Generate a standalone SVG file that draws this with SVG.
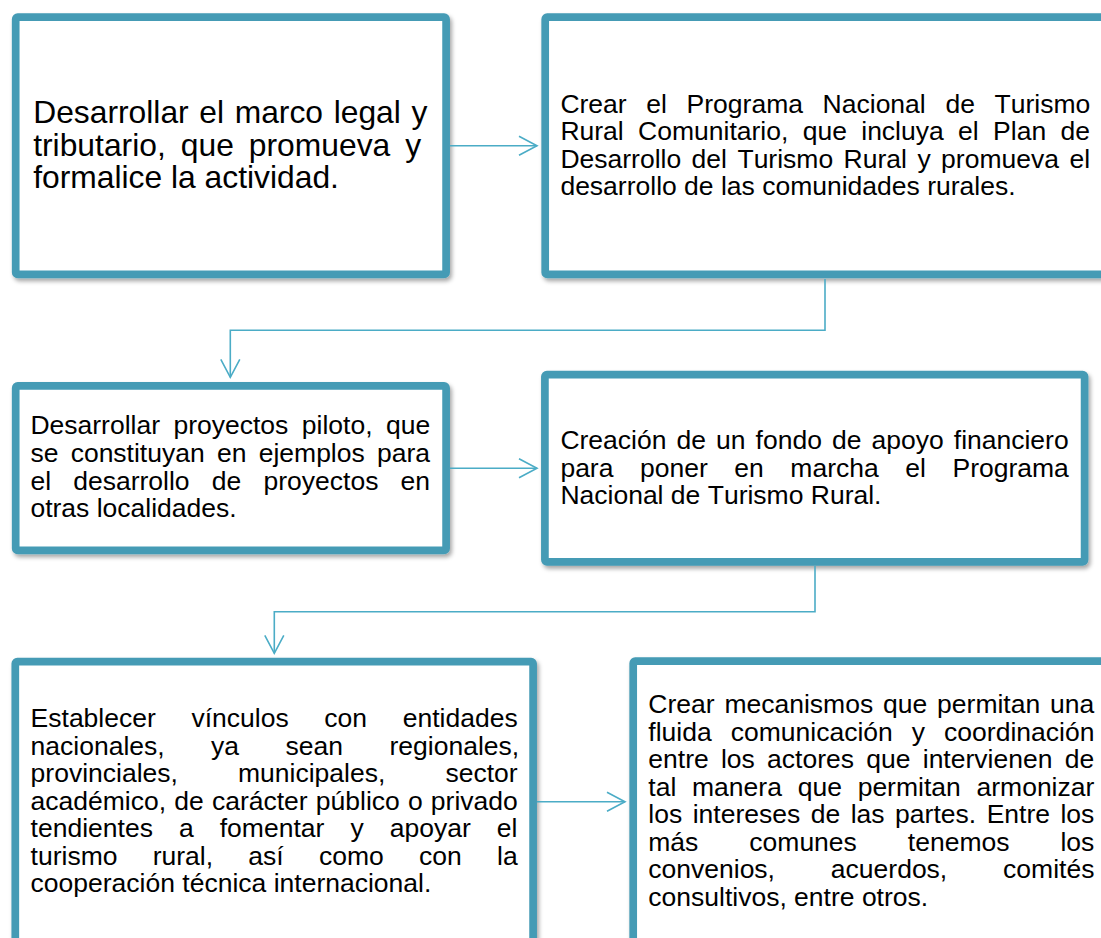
<svg xmlns="http://www.w3.org/2000/svg" width="1101" height="938" viewBox="0 0 1101 938">
<style>
.box{fill:#ffffff;stroke:#459BB5;stroke-width:7.7;filter:url(#sh)}
.t{font-family:"Liberation Sans",Arial,sans-serif;font-size:26.5px;fill:#000;font-kerning:none}
.big{font-size:31.8px}
.conn{fill:none;stroke:#4BACC6;stroke-width:1.6;marker-end:url(#arr)}
</style>
<defs>
<filter id="sh" x="-5%" y="-5%" width="110%" height="115%">
<feDropShadow dx="2" dy="3" stdDeviation="2" flood-color="#000" flood-opacity="0.35"/>
</filter>
<marker id="arr" markerUnits="userSpaceOnUse" markerWidth="24" markerHeight="24" refX="19" refY="11" orient="auto">
<path d="M1,1.5 L19,11 L1,20.5" fill="none" stroke="#4BACC6" stroke-width="1.6"/>
</marker>
</defs>
<rect width="1101" height="938" fill="#ffffff"/>

<g id="node1">
<rect class="box" x="15.7" y="17.2" width="430.4" height="257.2" rx="2"/>
<text class="t big">
<tspan x="33.2" y="123.3" word-spacing="1.8">Desarrollar el marco legal y</tspan>
<tspan x="33.2" y="155.8" word-spacing="6.2">tributario, que promueva y</tspan>
<tspan x="33.2" y="188.3">formalice la actividad.</tspan>
</text>
</g>

<g id="node2">
<rect class="box" x="545.2" y="17.2" width="580" height="257.2" rx="2"/>
<text class="t">
<tspan x="560.4" y="112.7" word-spacing="12.3">Crear el Programa Nacional de Turismo</tspan>
<tspan x="560.4" y="140.2" word-spacing="7.0">Rural Comunitario, que incluya el Plan de</tspan>
<tspan x="560.4" y="167.7" word-spacing="3.1">Desarrollo del Turismo Rural y promueva el</tspan>
<tspan x="560.4" y="195.2">desarrollo de las comunidades rurales.</tspan>
</text>
</g>

<g id="node3">
<rect class="box" x="15.7" y="385.9" width="430.4" height="164.5" rx="2"/>
<text class="t">
<tspan x="30.4" y="434.3" word-spacing="6.1">Desarrollar proyectos piloto, que</tspan>
<tspan x="30.4" y="462.0" word-spacing="4.9">se constituyan en ejemplos para</tspan>
<tspan x="30.4" y="489.7" word-spacing="14.85">el desarrollo de proyectos en</tspan>
<tspan x="30.4" y="517.4">otras localidades.</tspan>
</text>
</g>

<g id="node4">
<rect class="box" x="544.9" y="374.6" width="539.7" height="187.2" rx="2"/>
<text class="t">
<tspan x="560.4" y="449.0" word-spacing="2.7">Creación de un fondo de apoyo financiero</tspan>
<tspan x="560.4" y="476.5" word-spacing="19.2">para poner en marcha el Programa</tspan>
<tspan x="560.4" y="504.0">Nacional de Turismo Rural.</tspan>
</text>
</g>

<g id="node5">
<rect class="box" x="15.3" y="661.6" width="517.8" height="320" rx="2"/>
<text class="t">
<tspan x="30.6" y="727.3" word-spacing="28.3">Establecer vínculos con entidades</tspan>
<tspan x="30.6" y="754.8" word-spacing="39.1">nacionales, ya sean regionales,</tspan>
<tspan x="30.6" y="782.3" word-spacing="52.8">provinciales, municipales, sector</tspan>
<tspan x="30.6" y="809.8" word-spacing="0.8">académico, de carácter público o privado</tspan>
<tspan x="30.6" y="837.3" word-spacing="18.7">tendientes a fomentar y apoyar el</tspan>
<tspan x="30.6" y="864.8" word-spacing="27.9">turismo rural, así como con la</tspan>
<tspan x="30.6" y="892.3">cooperación técnica internacional.</tspan>
</text>
</g>

<g id="node6">
<rect class="box" x="633.2" y="661.2" width="520" height="320" rx="2"/>
<text class="t">
<tspan x="648.3" y="713.3" word-spacing="2.5">Crear mecanismos que permitan una</tspan>
<tspan x="648.3" y="740.8" word-spacing="11.7">fluida comunicación y coordinación</tspan>
<tspan x="648.3" y="768.3" word-spacing="4.9">entre los actores que intervienen de</tspan>
<tspan x="648.3" y="795.8" word-spacing="8.4">tal manera que permitan armonizar</tspan>
<tspan x="648.3" y="823.3" word-spacing="3.15">los intereses de las partes. Entre los</tspan>
<tspan x="648.3" y="850.8" word-spacing="43.6">más comunes tenemos los</tspan>
<tspan x="648.3" y="878.3" word-spacing="48.5">convenios, acuerdos, comités</tspan>
<tspan x="648.3" y="905.8">consultivos, entre otros.</tspan>
</text>
</g>

<g id="connectors">
<path class="conn" d="M450,145.7 H537"/>
<path class="conn" d="M825,279 V330.2 H230.3 V377.3"/>
<path class="conn" d="M450,468.3 H537"/>
<path class="conn" d="M815,566 V611.7 H274.3 V653.3"/>
<path class="conn" d="M537,801.7 H625"/>
</g>
</svg>
